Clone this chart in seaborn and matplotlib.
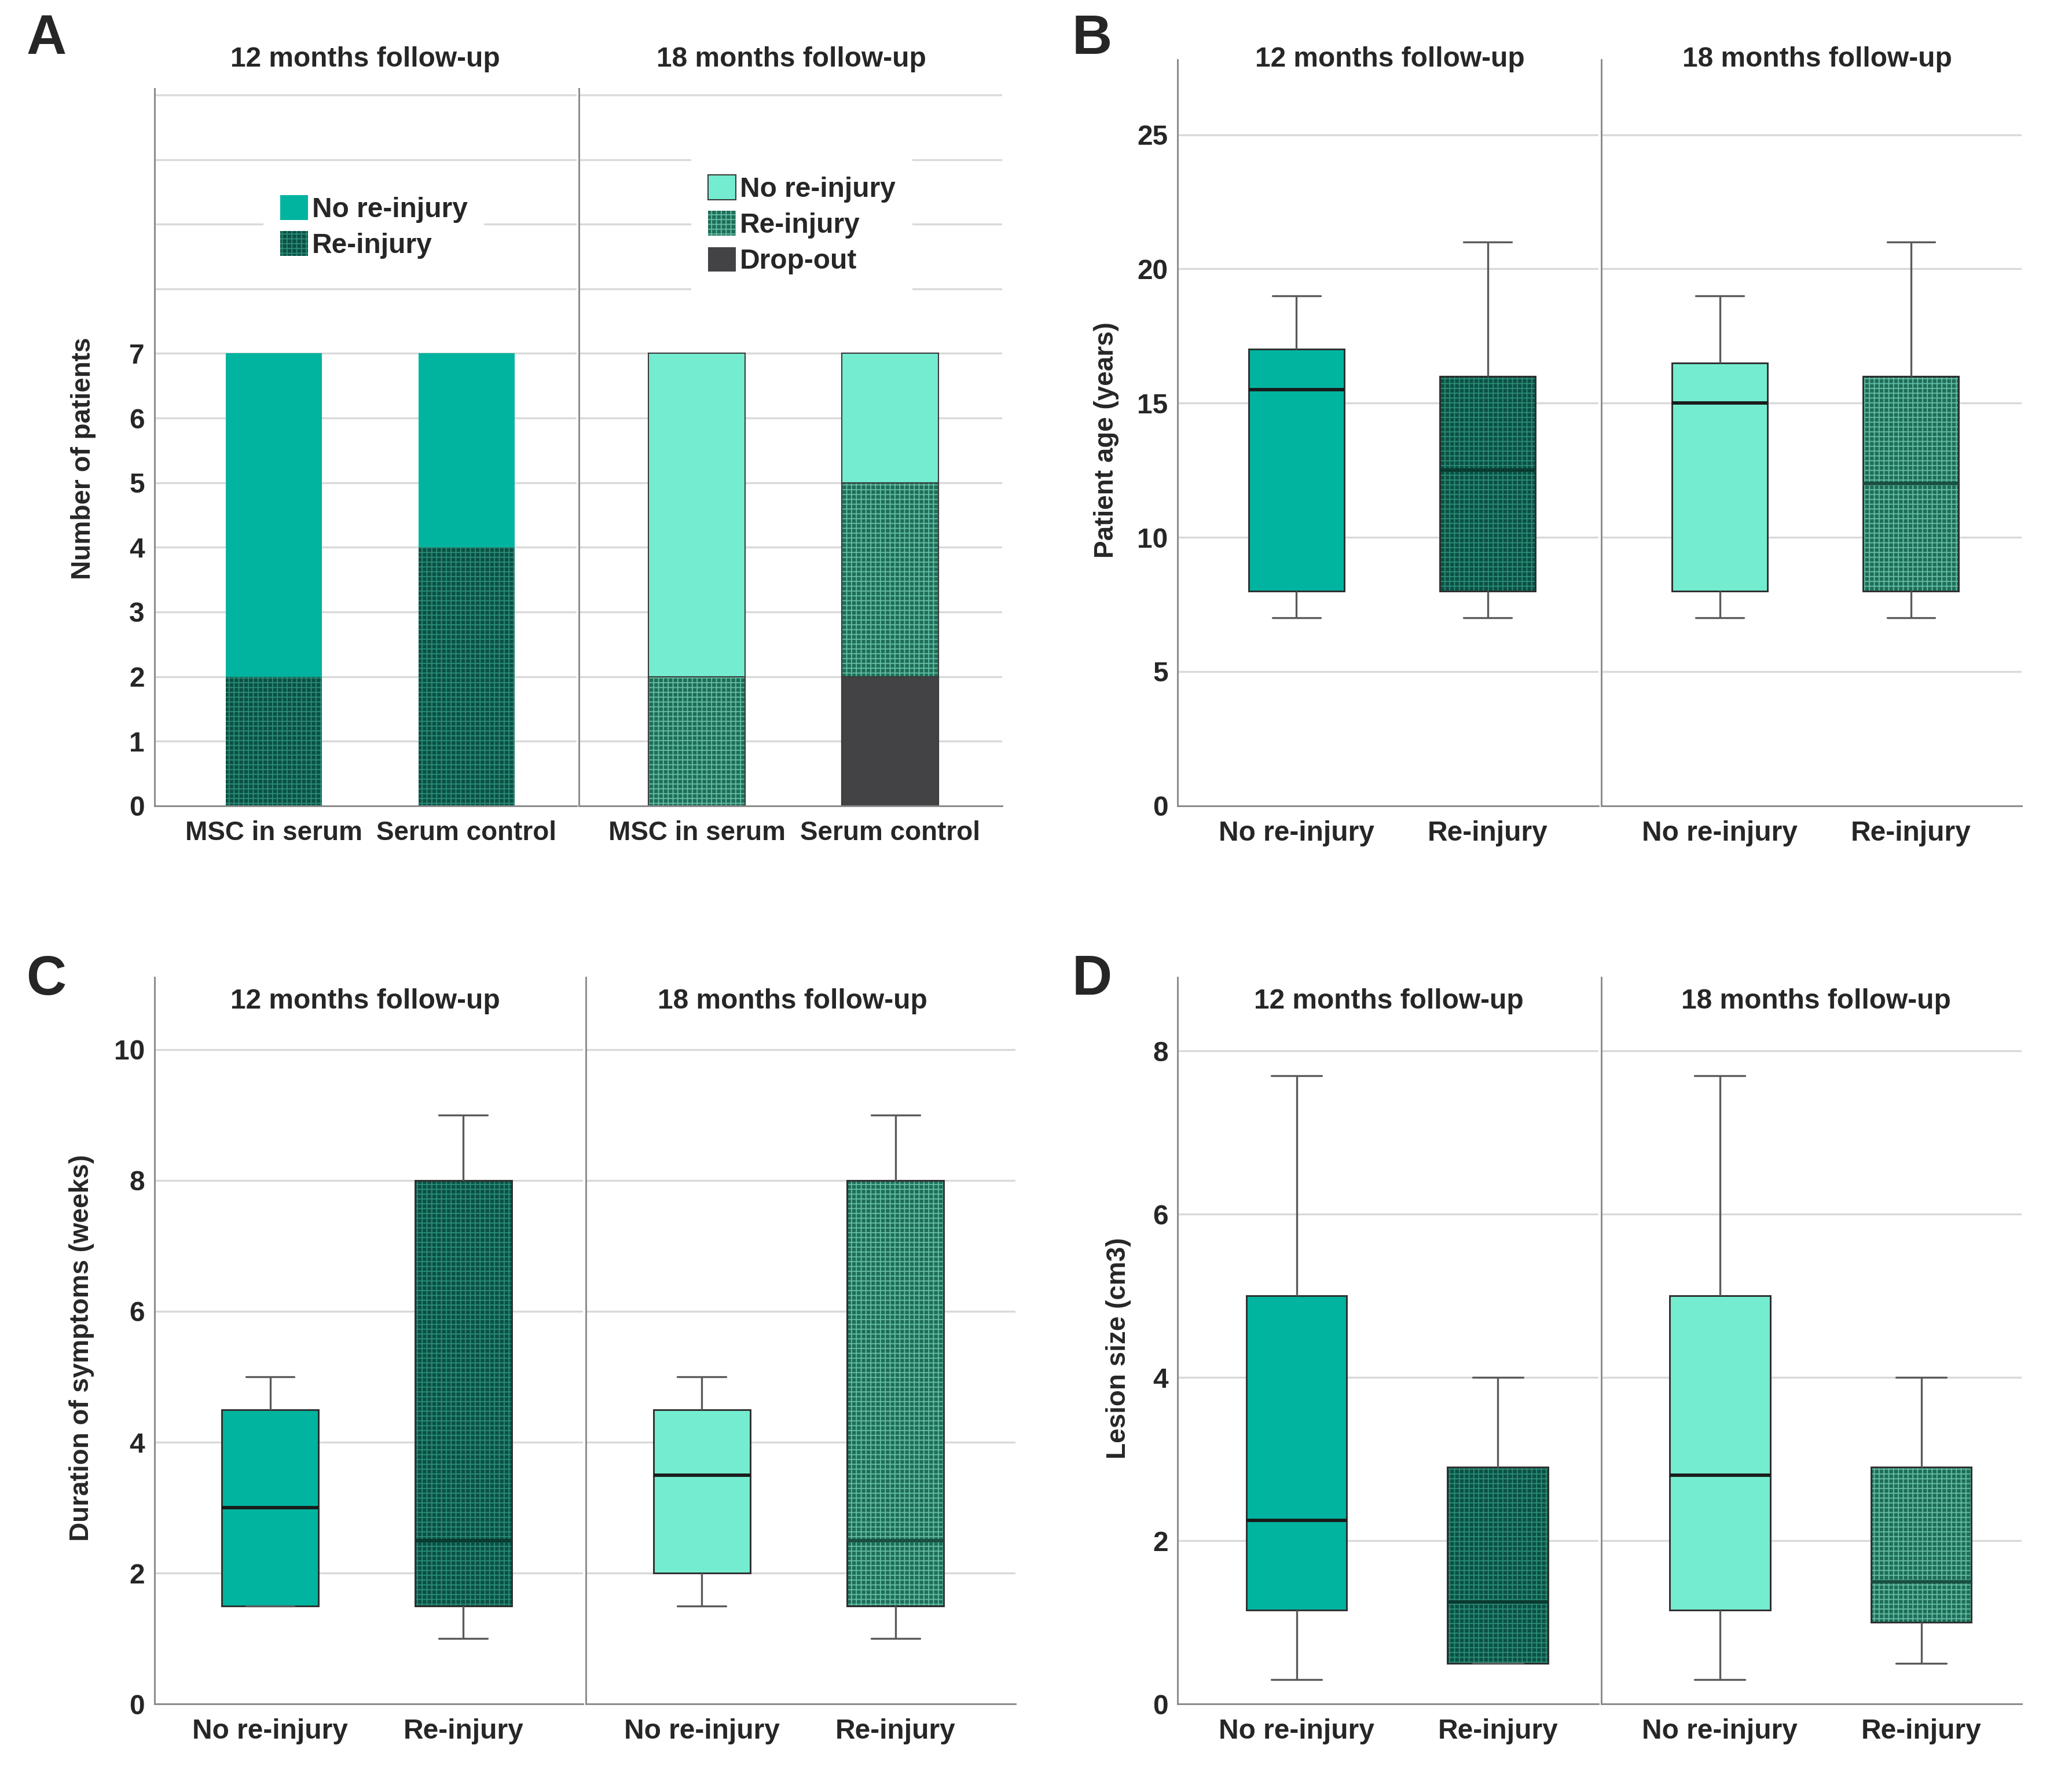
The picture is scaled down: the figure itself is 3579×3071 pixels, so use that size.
"""
Re-injury outcome figure: stacked counts (A) and box plots of age,
symptom duration and lesion size by follow-up (B-D).
"""

import numpy as np
import pandas as pd
import matplotlib
matplotlib.use("Agg")
import matplotlib.pyplot as plt
import matplotlib.patches as mpatches
from matplotlib.colors import to_rgba
import seaborn as sns

sns.set_style("white")
plt.rcParams["font.family"] = ["Liberation Sans", "DejaVu Sans"]
plt.rcParams["hatch.linewidth"] = 0.45

TEAL = "#00b4a0"
MINT = "#74ecd0"
DARK = "#0b5044"
DARK_DOT = "#2b8c75"
MID = "#1f6d59"
MID_DOT = "#62bda2"
GREY = "#434345"
HATCH = "++++++"
GRID = "#d9d9d9"
SPINE = "#8a8a8a"

FOLLOWUPS = ["12 months follow-up", "18 months follow-up"]
GROUPS = ["MSC in serum", "Serum control"]
OUTCOMES = ["No re-injury", "Re-injury"]

# Panel A: number of patients per group
A12_NO = [5, 3]
A12_RE = [2, 4]
A18_NO = [5, 2]
A18_RE = [2, 3]
A18_DROP = [0, 2]

# Panels B-D: five-number summaries [min, q1, median, q3, max]
AGE_12_NO = [7, 8, 15.5, 17, 19]
AGE_12_RE = [7, 8, 12.5, 16, 21]
AGE_18_NO = [7, 8, 15, 16.5, 19]
AGE_18_RE = [7, 8, 12, 16, 21]

DUR_12_NO = [1.5, 1.5, 3, 4.5, 5]
DUR_12_RE = [1, 1.5, 2.5, 8, 9]
DUR_18_NO = [1.5, 2, 3.5, 4.5, 5]
DUR_18_RE = [1, 1.5, 2.5, 8, 9]

LES_12_NO = [0.3, 1.15, 2.25, 5.0, 7.7]
LES_12_RE = [0.5, 0.5, 1.25, 2.9, 4.0]
LES_18_NO = [0.3, 1.15, 2.8, 5.0, 7.7]
LES_18_RE = [0.5, 1.0, 1.5, 2.9, 4.0]

# face colour / hatch colour per follow-up and outcome
STYLE = {
    ("12", "No re-injury"): (TEAL, None),
    ("12", "Re-injury"): (DARK, DARK_DOT),
    ("18", "No re-injury"): (MINT, None),
    ("18", "Re-injury"): (MID, MID_DOT),
    ("18", "Drop-out"): (GREY, None),
}
MEDIAN_COL = {
    ("12", "No re-injury"): "#1a1a1a",
    ("12", "Re-injury"): "#0a3a30",
    ("18", "No re-injury"): "#1a1a1a",
    ("18", "Re-injury"): "#1b4e42",
}

TICK_FS = 11.5

# reference layout was measured on a 1571 x 1346 view of the figure
VW, VH = 1571.0, 1346.0


def fx(px):
    return px / VW


def fy(py):
    return 1 - py / VH


def style_patch(p, face, dot, edge="none", lw=0.0):
    p.set_facecolor(face)
    p.set_edgecolor(edge if dot is None or edge != "none" else dot)
    p.set_linewidth(lw)
    if dot is not None:
        p.set_hatch(HATCH)
        p._hatch_color = to_rgba(dot)


def make_pair(fig, x0, xm, x1, y0, y1, gap=2):
    ax1 = fig.add_axes([fx(x0), fy(y0), fx(xm) - fx(x0), fy(y1) - fy(y0)])
    ax2 = fig.add_axes([fx(xm + gap), fy(y0), fx(x1) - fx(xm + gap), fy(y1) - fy(y0)],
                       sharey=ax1)
    for ax in (ax1, ax2):
        for side in ("top", "right"):
            ax.spines[side].set_visible(False)
        for side in ("left", "bottom"):
            ax.spines[side].set_color(SPINE)
            ax.spines[side].set_linewidth(0.7)
        ax.yaxis.grid(True, color=GRID, linewidth=0.8)
        ax.set_axisbelow(True)
        ax.tick_params(length=0, pad=4, labelsize=TICK_FS)
    ax2.tick_params(labelleft=False)
    return ax1, ax2


def finish_ticks(ax, xsize=TICK_FS):
    for lab in ax.get_yticklabels():
        lab.set_fontweight("bold")
        lab.set_fontsize(TICK_FS)
    for lab in ax.get_xticklabels():
        lab.set_fontweight("bold")
        lab.set_fontsize(xsize)
    ax.tick_params(axis="x", pad=6)
    ax.set_xlabel("")


def stacked_bars(ax, segments, key, edge, lw):
    # segments bottom -> top; draw cumulative totals from the top down
    cum = np.cumsum([seg[1] for seg in segments], axis=0)
    for i in range(len(segments) - 1, -1, -1):
        name = segments[i][0]
        face, dot = STYLE[(key, name)]
        n0 = len(ax.patches)
        sns.barplot(x=GROUPS, y=cum[i], order=GROUPS, color=face, width=0.5,
                    saturation=1, errorbar=None, ax=ax)
        for p in ax.patches[n0:]:
            style_patch(p, face, dot, edge, lw)


def box_facet(ax, key, no_vals, re_vals):
    df = pd.DataFrame({
        "outcome": np.repeat(OUTCOMES, 5),
        "value": list(no_vals) + list(re_vals),
    })
    pal = {o: STYLE[(key, o)][0] for o in OUTCOMES}
    n0 = len(ax.patches)
    l0 = len(ax.lines)
    sns.boxplot(data=df, x="outcome", y="value", hue="outcome",
                order=OUTCOMES, hue_order=OUTCOMES, palette=pal,
                whis=(0, 100), width=0.5, saturation=1, showfliers=False,
                linecolor="#2e2e2e", linewidth=0.7, legend=False, ax=ax,
                medianprops={"color": "#1a1a1a", "linewidth": 1.4},
                whiskerprops={"color": "#5a5a5a", "linewidth": 0.8},
                capprops={"color": "#5a5a5a", "linewidth": 0.8})
    for o, p in zip(OUTCOMES, ax.patches[n0:]):
        face, dot = STYLE[(key, o)]
        style_patch(p, face, dot, "#2e2e2e", 0.7)
    # median lines span the full box width; recolour them per outcome
    for ln in ax.lines[l0:]:
        xd = np.asarray(ln.get_xdata(), dtype=float)
        yd = np.asarray(ln.get_ydata(), dtype=float)
        if len(xd) == 2 and yd[0] == yd[1] and abs(xd[1] - xd[0]) > 0.4:
            idx = int(round(xd.mean()))
            ln.set_color(MEDIAN_COL[(key, OUTCOMES[idx])])


def box_panel(fig, pos, data, ylim, yticks, ylabel, xlim, label_x):
    axes = make_pair(fig, *pos)
    for ax, key, (no_vals, re_vals) in zip(axes, ["12", "18"], data):
        box_facet(ax, key, no_vals, re_vals)
        ax.set_xlim(*xlim)
        ax.set_ylabel("")
    axes[0].set_ylim(*ylim)
    axes[0].set_yticks(yticks)
    axes[0].set_yticklabels([f"{t:g}" for t in yticks])
    axes[0].set_ylabel(ylabel, fontsize=11, fontweight="bold")
    axes[0].yaxis.set_label_coords(label_x, 0.49)
    for ax in axes:
        finish_ticks(ax)
    return axes


fig = plt.figure(figsize=(3579 / 300, 3071 / 300), dpi=300)

# ---------------- Panel A ----------------
axA = make_pair(fig, 117, 437, 760, 610, 67)
stacked_bars(axA[0], [("Re-injury", A12_RE), ("No re-injury", A12_NO)], "12", "none", 0)
stacked_bars(axA[1], [("Drop-out", A18_DROP), ("Re-injury", A18_RE),
                      ("No re-injury", A18_NO)], "18", "#3a3a3a", 0.5)
axA[0].set_xlim(-0.62, 1.57)
axA[1].set_xlim(-0.61, 1.58)
axA[0].set_ylim(0, 11.1)
axA[0].set_yticks(range(0, 12))
axA[0].set_yticklabels([str(t) if t <= 7 else "" for t in range(0, 12)])
axA[0].set_ylabel("Number of patients", fontsize=11, fontweight="bold")
axA[0].yaxis.set_label_coords(-0.138, 0.484)
for ax in axA:
    finish_ticks(ax, xsize=11)


def legend_handle(key, name, edge="none", lw=0.0):
    face, dot = STYLE[(key, name)]
    h = mpatches.Patch(label=name)
    style_patch(h, face, dot, edge, lw)
    return h


leg_kw = dict(loc="center", handlelength=1.0, handleheight=1.0, handletextpad=0.15,
              labelspacing=0.3, frameon=True, facecolor="white", edgecolor="none",
              framealpha=1, fancybox=False, borderpad=0.6,
              prop={"weight": "bold", "size": TICK_FS})
axA[0].legend(handles=[legend_handle("12", "No re-injury"), legend_handle("12", "Re-injury")],
              bbox_to_anchor=(0.52, 0.807), **leg_kw)
axA[1].legend(handles=[legend_handle("18", "No re-injury", "#3a3a3a", 0.5),
                       legend_handle("18", "Re-injury"),
                       legend_handle("18", "Drop-out")],
              bbox_to_anchor=(0.526, 0.81), **leg_kw)

# ---------------- Panels B-D ----------------
box_panel(fig, (893, 1212, 1533, 610, 45),
          [(AGE_12_NO, AGE_12_RE), (AGE_18_NO, AGE_18_RE)],
          (0, 27.8), [0, 5, 10, 15, 20, 25], "Patient age (years)",
          (-0.62, 1.58), -0.14)
box_panel(fig, (117, 442, 770, 1290, 740),
          [(DUR_12_NO, DUR_12_RE), (DUR_18_NO, DUR_18_RE)],
          (0, 11.1), [0, 2, 4, 6, 8, 10], "Duration of symptoms (weeks)",
          (-0.6, 1.62), -0.14)
box_panel(fig, (893, 1212, 1533, 1290, 740),
          [(LES_12_NO, LES_12_RE), (LES_18_NO, LES_18_RE)],
          (0, 8.9), [0, 2, 4, 6, 8], "Lesion size (cm3)",
          (-0.59, 1.5), -0.11)

# facet titles
title_pos = [(277, 45), (600, 45), (1054, 45), (1378, 45),
             (277, 758), (601, 758), (1053, 758), (1377, 758)]
for i, (x, y) in enumerate(title_pos):
    fig.text(fx(x), fy(y), FOLLOWUPS[i % 2], ha="center", va="center",
             fontsize=TICK_FS, fontweight="bold")

# panel letters
for letter, (x, y) in zip("ABCD", [(35, 30), (828, 30), (35, 742), (828, 742)]):
    fig.text(fx(x), fy(y), letter, ha="center", va="center", fontsize=23, fontweight="bold")

fig.savefig("out.png", dpi=300)
